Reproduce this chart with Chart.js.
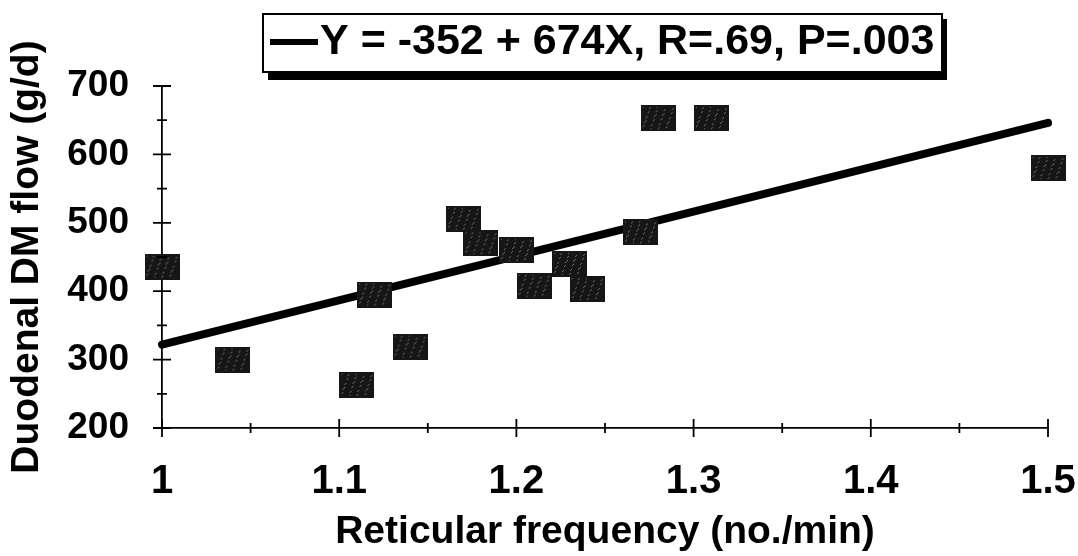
<!DOCTYPE html>
<html>
<head>
<meta charset="utf-8">
<script src="https://cdn.jsdelivr.net/npm/chart.js@4/dist/chart.umd.min.js"></script>
<style>
html,body{margin:0;padding:0;background:#fff;}
#wrap{width:1078px;height:556px;}
</style>
</head>
<body>
<div id="wrap"><canvas id="c" width="1078" height="556"></canvas></div>
<script>
// ---- data ----
const freq = [1.00, 1.04, 1.11, 1.12, 1.14, 1.17, 1.18, 1.20, 1.21, 1.23, 1.24, 1.27, 1.28, 1.31, 1.50];
const flow = [436, 300, 263, 395, 319, 506, 470, 460, 408, 440, 403, 486, 653, 653, 580];
const fitFreq = [1.0, 1.5];
const fitFlow = [322, 646];
const fitLabel = 'Y = -352 + 674X, R=.69, P=.003';
const xTicks = [1, 1.1, 1.2, 1.3, 1.4, 1.5];
const xTickLabels = ['1', '1.1', '1.2', '1.3', '1.4', '1.5'];
const xMinorTicks = [1.05, 1.15, 1.25, 1.35, 1.45];
const yTicks = [200, 300, 400, 500, 600, 700];
const yTickLabels = ['200', '300', '400', '500', '600', '700'];
const yMinorTicks = [250, 350, 450, 550, 650];
const xTitle = 'Reticular frequency (no./min)';
const yTitle = 'Duodenal DM flow (g/d)';

const FONT = "'Liberation Sans', Arial, Helvetica, sans-serif";

function makeSquare() {
  const c = document.createElement('canvas');
  c.width = 35; c.height = 26;
  const g = c.getContext('2d');
  g.fillStyle = '#161616';
  g.fillRect(0, 0, 35, 26);
  g.fillStyle = '#707070';
  for (let i = 0; i < 45; i++) {
    const px = (i * 13) % 31 + 2, py = (i * 7) % 22 + 2;
    g.fillRect(px, py, 1, 1);
  }
  return c;
}
const squareImg = makeSquare();

const crossTicks = {
  id: 'crossTicks',
  afterDraw(chart) {
    const { ctx, scales: { x, y } } = chart;
    const yb = y.getPixelForValue(yTicks[0]);
    const xl = x.getPixelForValue(xTicks[0]);
    ctx.save();
    ctx.strokeStyle = '#000';
    ctx.lineWidth = 1.8;
    ctx.beginPath();
    xTicks.forEach(v => { const p = x.getPixelForValue(v); ctx.moveTo(p, yb - 9); ctx.lineTo(p, yb + 9); });
    xMinorTicks.forEach(v => { const p = x.getPixelForValue(v); ctx.moveTo(p, yb - 5); ctx.lineTo(p, yb + 5); });
    yTicks.forEach(v => { const p = y.getPixelForValue(v); ctx.moveTo(xl - 9, p); ctx.lineTo(xl + 9, p); });
    yMinorTicks.forEach(v => { const p = y.getPixelForValue(v); ctx.moveTo(xl - 5, p); ctx.lineTo(xl + 5, p); });
    ctx.stroke();
    ctx.restore();
  }
};

const boxLegend = {
  id: 'boxLegend',
  afterDraw(chart) {
    const ctx = chart.ctx;
    const L = 263, T = 14, R = 942, B = 72;
    ctx.save();
    ctx.fillStyle = '#000';
    ctx.fillRect(L + 5, T + 5, R - L, B - T + 3);
    ctx.fillStyle = '#fff';
    ctx.fillRect(L, T, R - L, B - T);
    ctx.strokeStyle = '#000';
    ctx.lineWidth = 2;
    ctx.strokeRect(L, T, R - L, B - T);
    ctx.lineWidth = 6;
    ctx.lineCap = 'butt';
    ctx.beginPath();
    ctx.moveTo(270, 42); ctx.lineTo(318, 42);
    ctx.stroke();
    ctx.fillStyle = '#000';
    ctx.font = 'bold 43px ' + FONT;
    ctx.textBaseline = 'alphabetic';
    ctx.textAlign = 'left';
    ctx.fillText(chart.data.datasets[1].label, 320, 54);
    ctx.restore();
  }
};

new Chart(document.getElementById('c'), {
  type: 'scatter',
  data: {
    datasets: [
      {
        label: 'Observed',
        data: freq.map((v, i) => ({ x: v, y: flow[i] })),
        pointStyle: squareImg,
        pointRadius: 17,
        clip: false
      },
      {
        label: fitLabel,
        data: fitFreq.map((v, i) => ({ x: v, y: fitFlow[i] })),
        showLine: true,
        borderColor: '#000',
        borderWidth: 8,
        borderCapStyle: 'round',
        pointRadius: 0,
        fill: false,
        clip: false
      }
    ]
  },
  options: {
    responsive: false,
    animation: false,
    devicePixelRatio: 1,
    layout: { padding: { top: 86, right: 30, left: 0, bottom: 0 } },
    plugins: { legend: { display: false }, tooltip: { enabled: false } },
    scales: {
      x: {
        type: 'linear', min: 1, max: 1.5,
        afterBuildTicks: s => { s.ticks = xTicks.map(v => ({ value: v })); },
        afterFit: s => { s.height = 128; s.paddingLeft = 0; s.paddingRight = 0; },
        grid: { display: false, drawTicks: false },
        border: { display: true, color: '#000', width: 1.8 },
        ticks: {
          color: '#000', padding: 30, maxRotation: 0, autoSkip: false,
          font: { family: FONT, size: 40, weight: 'bold' },
          callback: (v, i) => xTickLabels[i]
        },
        title: { display: true, text: xTitle, color: '#000', font: { family: FONT, size: 39, weight: 'bold' }, padding: { top: 0, bottom: 0 } }
      },
      y: {
        type: 'linear', min: 200, max: 700,
        afterBuildTicks: s => { s.ticks = yTicks.map(v => ({ value: v })); },
        afterFit: s => { s.width = 162; s.paddingTop = 0; s.paddingBottom = 0; },
        grid: { display: false, drawTicks: false },
        border: { display: true, color: '#000', width: 1.8 },
        ticks: {
          color: '#000', padding: 33, autoSkip: false,
          font: { family: FONT, size: 37, weight: 'bold' },
          callback: (v, i) => yTickLabels[i]
        },
        title: { display: true, text: yTitle, color: '#000', font: { family: FONT, size: 39, weight: 'bold' }, padding: { top: 4, bottom: 0 } }
      }
    }
  },
  plugins: [crossTicks, boxLegend]
});
</script>
</body>
</html>
